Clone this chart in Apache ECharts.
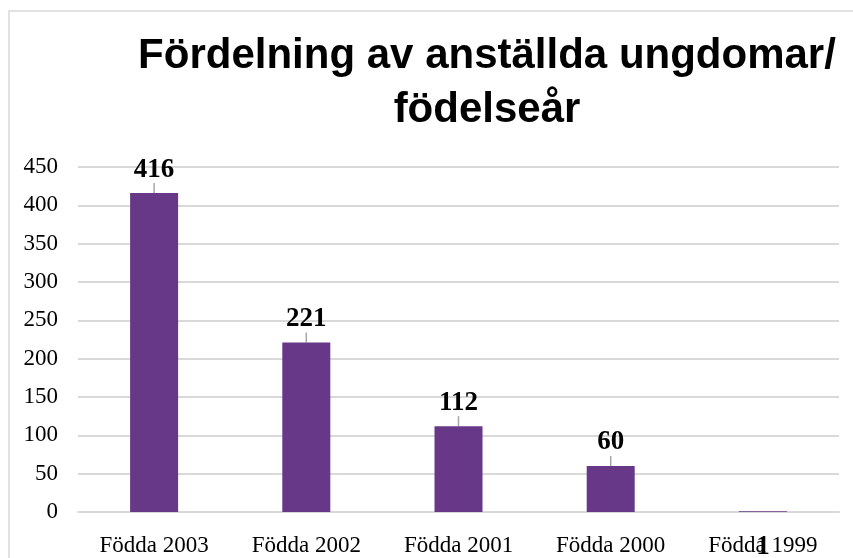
<!DOCTYPE html>
<html>
<head>
    <meta charset="utf-8">
    <title>Fördelning av anställda ungdomar</title>
    <script src="https://cdn.jsdelivr.net/npm/echarts@6/dist/echarts.min.js"></script>
    <style>
        html, body { margin: 0; padding: 0; background: #fff; }
    </style>
</head>
<body>
<div id="chartmain" style="width:853px; height:558px;"></div>
<script>
    // kategorier och värden
    var categories = ['Födda 2003', 'Födda 2002', 'Födda 2001', 'Födda 2000', 'Födda 1999'];
    var values = [416, 221, 112, 60, 1];
    var yTicks = [0, 50, 100, 150, 200, 250, 300, 350, 400, 450];

    var lastIdx = values.length - 1;
    var barData = values.map(function (v, i) {
        // sista etiketten hamnar nere vid kategorinamnet, utan linje
        return {value: v, labelLine: {show: i !== lastIdx}};
    });

    var myChart = echarts.init(document.getElementById('chartmain'));
    var option = {
        animation: false,
        backgroundColor: '#fff',
        graphic: [{
            type: 'rect',
            shape: {x: 9, y: 11, width: 860, height: 600},
            style: {fill: 'none', stroke: '#d9d9d9', lineWidth: 1.5},
            silent: true
        }],
        title: {
            text: 'Fördelning av anställda ungdomar/\nfödelseår',
            left: 482,
            textAlign: 'center',
            top: 24,
            textStyle: {
                fontFamily: 'Liberation Sans',
                fontWeight: 'bold',
                fontSize: 42,
                lineHeight: 54,
                color: '#000'
            }
        },
        grid: {
            left: 78,
            right: 14,
            top: 167,
            bottom: 46
        },
        xAxis: {
            type: 'category',
            data: categories,
            axisLine: {show: true, lineStyle: {color: '#d9d9d9', width: 2}},
            axisTick: {show: false},
            axisLabel: {
                fontFamily: 'Liberation Serif',
                fontSize: 23,
                color: '#000',
                margin: 22
            }
        },
        yAxis: {
            type: 'value',
            min: yTicks[0],
            max: yTicks[yTicks.length - 1],
            interval: 50,
            axisLine: {show: false},
            axisTick: {show: false},
            splitLine: {lineStyle: {color: '#d9d9d9', width: 2}},
            axisLabel: {
                fontFamily: 'Liberation Serif',
                fontSize: 23,
                color: '#000',
                margin: 20,
                verticalAlign: 'middle',
                padding: [5, 0, 0, 0]
            }
        },
        series: [{
            type: 'bar',
            data: barData,
            barWidth: 48,
            itemStyle: {color: '#673888'},
            label: {
                show: true,
                position: 'top',
                distance: 2,
                fontFamily: 'Liberation Serif',
                fontWeight: 'bold',
                fontSize: 27,
                color: '#000'
            },
            labelLayout: function (params) {
                if (params.dataIndex === lastIdx) {
                    return {dy: 51};
                }
                return {dy: -8};
            },
            labelLine: {
                show: true,
                lineStyle: {color: '#a6a6a6', width: 1.5}
            }
        }]
    };
    myChart.setOption(option);
</script>
</body>
</html>
